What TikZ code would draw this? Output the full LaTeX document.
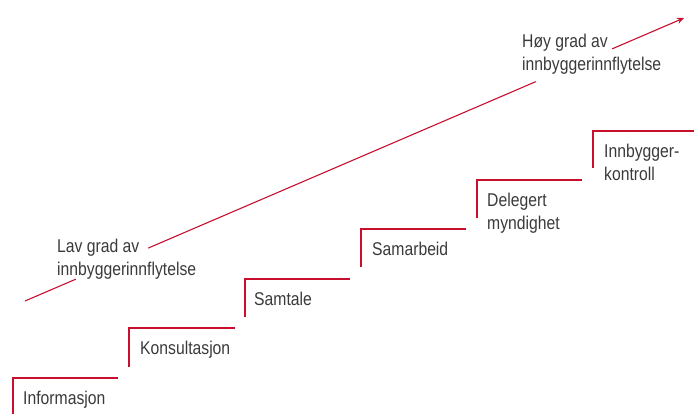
\documentclass[tikz,border=0pt]{standalone}
\usepackage{fontspec}
\setmainfont{Liberation Sans}[FakeStretch=0.85]
\usetikzlibrary{arrows.meta,calc}
\definecolor{stair_red}{HTML}{C8102E}
\definecolor{text_grey}{HTML}{3A3A3A}

\begin{document}
\begin{tikzpicture}[x=1pt,y=-1pt,
        trinn/.style={stair_red, line width=1.1pt},
        etikett/.style={anchor=north west, inner sep=0pt, align=left, text=text_grey,
            font=\fontsize{18.5}{22.5}\selectfont}]
        \useasboundingbox (0,0) rectangle (694,414);
        % Trapp
        \draw[trinn] (13,414) -- (13,378) -- (118,378);
        \node[etikett] (informasjon) at (23,391) {Informasjon};
        \draw[trinn] (129,367) -- (129,328) -- (235,328);
        \node[etikett] (konsultasjon) at (140,341) {Konsultasjon};
        \draw[trinn] (245,317) -- (245,279) -- (350,279);
        \node[etikett] (samtale) at (254,292) {Samtale};
        \draw[trinn] (361,267) -- (361,229) -- (466,229);
        \node[etikett] (samarbeid) at (372,242) {Samarbeid};
        \draw[trinn] (477,218) -- (477,180) -- (582,180);
        \node[etikett] (delegert) at (487,193) {Delegert\\myndighet};
        \draw[trinn] (593,168) -- (593,131) -- (694,131);
        \node[etikett] (kontroll) at (604,144) {Innbygger-\\kontroll};

        % Pil
        \coordinate (lav) at (25,301);
        \coordinate (hoy) at (684,18);
        \node[etikett] (lavgrad) at (57,239) {Lav grad av\\innbyggerinnflytelse};
        \node[etikett] (hoygrad) at (522,34) {Høy grad av\\innbyggerinnflytelse};
        \draw[trinn] (lav) -- ($(lav)!0.077!(hoy)$);
        \draw[trinn] ($(lav)!0.187!(hoy)$) -- ($(lav)!0.775!(hoy)$);
        \draw[trinn, -{Stealth[length=7pt, width=6pt]}] ($(lav)!0.891!(hoy)$) -- (hoy);

    \end{tikzpicture}
\end{document}
